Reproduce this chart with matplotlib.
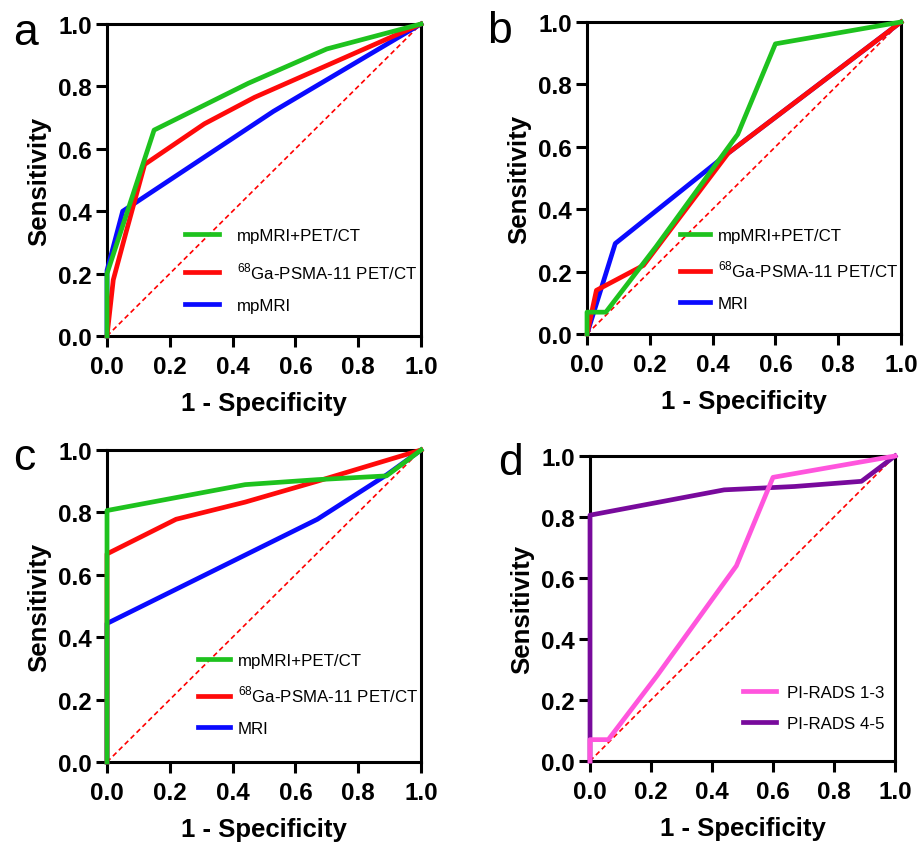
import matplotlib
matplotlib.use("Agg")
import matplotlib.pyplot as plt

plt.rcParams['font.family'] = ['Liberation Sans', 'DejaVu Sans']
plt.rcParams['mathtext.fontset'] = 'custom'
plt.rcParams['mathtext.rm'] = 'Liberation Sans'

GREEN = '#1ec21e'
RED = '#ff0a0a'
BLUE = '#0a0aff'
PINK = '#ff55dd'
PURPLE = '#780a9c'
PSMA = r'$^{68}$Ga-PSMA-11 PET/CT'

# panel a
a_combo_x = [0, 0, 0.15, 0.45, 0.70, 1.0]
a_combo_y = [0, 0.20, 0.66, 0.81, 0.92, 1.0]
a_pet_x = [0, 0.02, 0.06, 0.12, 0.31, 0.47, 1.0]
a_pet_y = [0, 0.18, 0.33, 0.55, 0.68, 0.765, 1.0]
a_mri_x = [0, 0, 0.05, 0.53, 1.0]
a_mri_y = [0, 0.21, 0.40, 0.72, 1.0]

# panel b
b_combo_x = [0, 0, 0.06, 0.22, 0.48, 0.60, 1.0]
b_combo_y = [0, 0.07, 0.07, 0.28, 0.64, 0.93, 1.0]
b_pet_x = [0, 0.03, 0.18, 0.45, 1.0]
b_pet_y = [0, 0.14, 0.22, 0.58, 1.0]
b_mri_x = [0, 0.09, 0.45, 1.0]
b_mri_y = [0, 0.29, 0.58, 1.0]

# panel c
c_combo_x = [0, 0, 0.44, 0.67, 0.89, 1.0]
c_combo_y = [0, 0.806, 0.889, 0.905, 0.917, 1.0]
c_pet_x = [0, 0, 0.22, 0.44, 0.67, 1.0]
c_pet_y = [0, 0.667, 0.778, 0.833, 0.90, 1.0]
c_mri_x = [0, 0, 0.67, 0.89, 1.0]
c_mri_y = [0, 0.444, 0.778, 0.92, 1.0]

# panel d
d_low_x = [0, 0, 0.06, 0.22, 0.48, 0.60, 1.0]
d_low_y = [0, 0.07, 0.07, 0.28, 0.64, 0.93, 1.0]
d_high_x = [0, 0, 0.44, 0.67, 0.89, 1.0]
d_high_y = [0, 0.806, 0.889, 0.900, 0.917, 1.0]

ticks = [0.0, 0.2, 0.4, 0.6, 0.8, 1.0]

W, H = 919, 845
fig = plt.figure(figsize=(W / 100, H / 100), dpi=100)


def make_ax(left, top, w, h):
    ax = fig.add_axes([left / W, 1 - (top + h) / H, w / W, h / H])
    ax.set_xlim(0, 1)
    ax.set_ylim(0, 1)
    ax.set_xticks(ticks)
    ax.set_yticks(ticks)
    ax.set_xticklabels([f'{t:.1f}' for t in ticks], fontweight='bold', fontsize=17.5)
    ax.set_yticklabels([f'{t:.1f}' for t in ticks], fontweight='bold', fontsize=17.5)
    ax.tick_params(direction='out', length=8, width=2.2, pad=3)
    ax.tick_params(axis='x', pad=6)
    for s in ax.spines.values():
        s.set_linewidth(2.2)
    ax.plot([0, 1], [0, 1], color='red', lw=1.2, ls=(0, (3, 2)), zorder=2)
    ax.set_xlabel('1 - Specificity', fontweight='bold', fontsize=18.5, labelpad=9)
    ax.set_ylabel('Sensitivity', fontweight='bold', fontsize=18.5, labelpad=5)
    return ax


def draw(ax, series, anchor, spacing, hlen, textpad):
    handles = []
    n = len(series)
    # first-listed curve is drawn on top
    for i, (x, y, c, lab) in enumerate(series):
        ln, = ax.plot(x, y, color=c, lw=3.4, label=lab, clip_on=False,
                      zorder=3 + (n - i) * 0.1)
        handles.append(ln)
    ax.legend(handles=handles, loc='upper left', bbox_to_anchor=anchor, frameon=False,
              fontsize=12.2, handlelength=hlen, handletextpad=textpad,
              labelspacing=spacing, borderpad=0, borderaxespad=0)


ax = make_ax(107, 25, 314, 312)
draw(ax, [(a_combo_x, a_combo_y, GREEN, 'mpMRI+PET/CT'),
          (a_pet_x, a_pet_y, RED, PSMA),
          (a_mri_x, a_mri_y, BLUE, 'mpMRI')], (0.248, 0.345), 1.0, 2.0, 1.1)
fig.text(13 / W, 1 - 45 / H, 'a', fontsize=32)

ax = make_ax(587, 23, 314, 312)
draw(ax, [(b_combo_x, b_combo_y, GREEN, 'mpMRI+PET/CT'),
          (b_pet_x, b_pet_y, RED, PSMA),
          (b_mri_x, b_mri_y, BLUE, 'MRI')], (0.296, 0.34), 0.95, 1.8, 0.45)
fig.text(487 / W, 1 - 43 / H, 'b', fontsize=32)

ax = make_ax(107, 451, 314, 312)
draw(ax, [(c_combo_x, c_combo_y, GREEN, 'mpMRI+PET/CT'),
          (c_pet_x, c_pet_y, RED, PSMA),
          (c_mri_x, c_mri_y, BLUE, 'MRI')], (0.29, 0.35), 0.95, 1.9, 0.45)
fig.text(13 / W, 1 - 470 / H, 'c', fontsize=32)

ax = make_ax(590, 457, 305, 305)
draw(ax, [(d_low_x, d_low_y, PINK, 'PI-RADS 1-3'),
          (d_high_x, d_high_y, PURPLE, 'PI-RADS 4-5')], (0.5, 0.25), 0.95, 1.95, 0.7)
fig.text(498 / W, 1 - 475 / H, 'd', fontsize=32)

fig.savefig('out.png', dpi=100)
